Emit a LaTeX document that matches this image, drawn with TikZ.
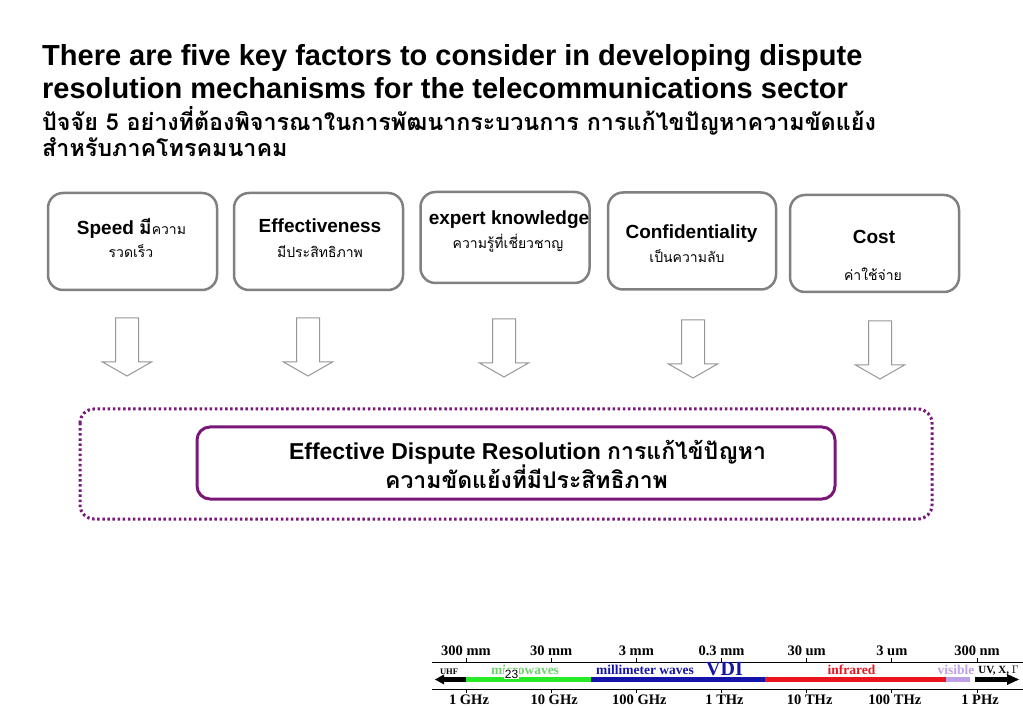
\documentclass[tikz,border=0pt]{standalone}
\usepackage{fontspec}
\setmainfont{Liberation Sans}
\newfontfamily\thaifont[Script=Thai]{Loma}
\newfontfamily\specfont{Liberation Serif}
\usetikzlibrary{calc}
\definecolor{boxgray}{RGB}{128,128,128}
\definecolor{arrowgray}{RGB}{150,150,150}
\definecolor{edrpurple}{RGB}{122,24,122}
\definecolor{specgreen}{RGB}{40,235,40}
\definecolor{specblue}{RGB}{20,20,170}
\definecolor{specred}{RGB}{235,20,30}
\definecolor{speclav}{RGB}{190,160,230}
\definecolor{labgreen}{RGB}{110,210,110}
\def\hollowarrow(#1,#2){\draw[flowarrow] (#1-11.5,#2) -- (#1-11.5,#2+44) -- (#1-24.5,#2+44) -- (#1,#2+58) -- (#1+24.5,#2+44) -- (#1+11.5,#2+44) -- (#1+11.5,#2) -- cycle;}
\tikzset{
  titletext/.style={anchor=base west, inner sep=0, font=\fontsize{29}{29}\selectfont\bfseries},
  thaititle/.style={anchor=base west, inner sep=0, font=\thaifont\fontsize{23.3}{23.3}\selectfont\bfseries},
  factorbox/.style={draw=boxgray, line width=2.5pt, rounded corners=15pt, minimum width=169pt, minimum height=97pt, inner sep=0},
  factorname/.style={anchor=base, inner sep=0, font=\fontsize{19}{19}\selectfont\bfseries},
  factorthai/.style={anchor=base, inner sep=0, font=\thaifont\fontsize{14}{14}\selectfont},
  flowarrow/.style={draw=arrowgray, line width=1pt, fill=white},
  edrtext/.style={anchor=base, inner sep=0, font=\fontsize{23}{23}\selectfont\bfseries},
  spectop/.style={anchor=base, inner sep=0, font=\specfont\fontsize{14.5}{14.5}\selectfont\bfseries},
  specband/.style={anchor=base, inner sep=0, font=\specfont\fontsize{13.5}{13.5}\selectfont\bfseries},
  specbar/.style={line width=5pt}
}
\begin{document}
\begin{tikzpicture}[x=1pt,y=-1pt]
			%%%%% START %%%%%
			\useasboundingbox (0,0) rectangle (1023,708);
			
			\node[titletext] (title1) at (42,66) {There are five key factors to consider in developing dispute};
			\node[titletext] (title2) at (42,98.5) {resolution mechanisms for the telecommunications sector};
			\node[thaititle] (thai1) at (42,131) {ปัจจัย 5 อย่างที่ต้องพิจารณาในการพัฒนากระบวนการ การแก้ไขปัญหาความขัดแย้ง};
			\node[thaititle] (thai2) at (42,157) {สำหรับภาคโทรคมนาคม};
			
			\node[factorbox] (speed) at (132.5,241.5) {};
			\node[factorbox] (effect) at (318.5,241.5) {};
			\node[factorbox, minimum height=91pt] (expert) at (505,237.5) {};
			\node[factorbox, minimum width=168pt] (confid) at (692,241) {};
			\node[factorbox] (cost) at (874.5,243.5) {};
			
			\node[factorname] (speedname) at (131.5,235) {Speed {\thaifont มี}{\thaifont\fontsize{14}{14}\selectfont\mdseries ความ}};
			\node[factorthai] (speedthai) at (131,258) {รวดเร็ว};
			\node[factorname] (effectname) at (320,233) {Effectiveness};
			\node[factorthai] (effectthai) at (320,258) {มีประสิทธิภาพ};
			\node[factorname] (expertname) at (509,225) {expert knowledge};
			\node[factorthai] (expertthai) at (508,249) {ความรู้ที่เชี่ยวชาญ};
			\node[factorname] (confidname) at (691.5,239) {Confidentiality};
			\node[factorthai] (confidthai) at (687,263) {เป็นความลับ};
			\node[factorname] (costname) at (874,244) {Cost};
			\node[factorthai] (costthai) at (873,281) {ค่าใช้จ่าย};
			
			\hollowarrow(127,318)
			\hollowarrow(308,318)
			\hollowarrow(504,319)
			\hollowarrow(693,320)
			\hollowarrow(880,321)
			
			\draw[edrpurple, line width=3pt, dash pattern=on 2.5pt off 2.6pt, rounded corners=14pt] (80,409) rectangle (932,519);
			\node[draw=edrpurple, line width=3pt, rounded corners=13pt, minimum width=638pt, minimum height=72pt, inner sep=0] (edr) at (516,463) {};
			\node[edrtext] (edrline1) at (527.5,460) {Effective Dispute Resolution {\thaifont การแก้ไข้ปัญหา}};
			\node[edrtext] (edrline2) at (526.5,489) {\thaifont ความขัดแย้งที่มีประสิทธิภาพ};
			
			% spectrum strip
			\draw[line width=0.8pt] (432,662) -- (1023,662);
			\draw[line width=0.8pt] (432,689) -- (1023,689);
			\foreach \i/\up/\down in {0/300 mm/1 GHz, 1/30 mm/10 GHz, 2/3 mm/100 GHz, 3/0.3 mm/1 THz, 4/30 um/10 THz, 5/3 um/100 THz, 6/300 nm/1 PHz}{
				\draw[line width=0.8pt] (466+85.17*\i,662) -- (466+85.17*\i,658);
				\draw[line width=0.8pt] (466+85.17*\i,689) -- (466+85.17*\i,693);
				\node[spectop] at (466+85.17*\i,655) {\up};
				\node[spectop] at (469+85.17*\i,704) {\down};
			}
			\draw[specbar, black] (443,679.5) -- (466,679.5);
			\fill[black] (435,679.5) -- (444,674.5) -- (444,684.5) -- cycle;
			\draw[specbar, specgreen] (466,679.5) -- (591,679.5);
			\draw[specbar, specblue] (591,679.5) -- (765,679.5);
			\draw[specbar, specred] (765,679.5) -- (946,679.5);
			\draw[specbar, speclav] (946,679.5) -- (970,679.5);
			\draw[specbar, black] (975,679.5) -- (1008,679.5);
			\fill[black] (1019,679.5) -- (1007,674) -- (1007,685) -- cycle;
			
			\node[anchor=base, inner sep=0, font=\specfont\fontsize{8.5}{8.5}\selectfont\bfseries] (uhf) at (449,674) {UHF};
			\node[specband, labgreen] (micro) at (525,674) {microwaves};
			\node[specband, specblue] (mmw) at (645,674) {millimeter waves};
			\node[anchor=base, inner sep=0, font=\specfont\fontsize{20}{20}\selectfont\bfseries, specblue] (vdi) at (724.5,675) {VDI};
			\node[specband, specred] (ir) at (851.5,674) {infrared};
			\node[specband, speclav] (vis) at (956,674) {visible};
			\node[anchor=base, inner sep=0, font=\specfont\fontsize{11}{11}\selectfont\bfseries] (uvx) at (998.5,673) {UV, X, $\Gamma$};
			\node[fill=white, inner sep=0.5pt, font=\fontsize{12}{12}\selectfont] (page) at (511.5,674) {23};
			
			%%%%% END %%%%%
		\end{tikzpicture}
\end{document}
